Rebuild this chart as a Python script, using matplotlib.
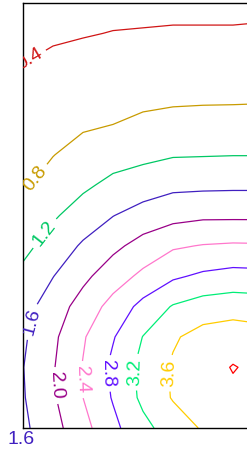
import numpy as np
import matplotlib
matplotlib.use("Agg")
import matplotlib.pyplot as plt

plt.rcParams['font.family'] = ['Liberation Sans', 'DejaVu Sans']

# grid (columns left->right, rows bottom->top)
x_vals = [0, 1, 2, 3, 4, 5, 6, 7, 8]
y_vals = [0, 1, 2, 3, 4, 5, 6, 7, 8, 9, 10, 11, 12, 13, 14]

z_rows = [
    [1.52, 1.86, 2.27, 2.70, 3.09, 3.39, 3.64, 3.85, 3.75],
    [1.57, 1.95, 2.40, 2.83, 3.29, 3.63, 3.80, 3.92, 3.85],
    [1.59, 1.97, 2.42, 2.89, 3.32, 3.65, 3.84, 4.02, 3.90],
    [1.54, 1.92, 2.36, 2.77, 3.21, 3.55, 3.75, 3.82, 3.75],
    [1.45, 1.80, 2.16, 2.54, 2.92, 3.23, 3.38, 3.43, 3.40],
    [1.30, 1.59, 1.91, 2.21, 2.49, 2.74, 2.87, 2.94, 2.92],
    [1.09, 1.37, 1.65, 1.91, 2.14, 2.35, 2.42, 2.45, 2.44],
    [0.93, 1.15, 1.38, 1.59, 1.77, 1.87, 1.93, 1.93, 1.93],
    [0.75, 0.95, 1.13, 1.30, 1.39, 1.51, 1.52, 1.53, 1.53],
    [0.68, 0.79, 0.94, 1.04, 1.11, 1.17, 1.18, 1.19, 1.19],
    [0.59, 0.69, 0.75, 0.80, 0.87, 0.91, 0.92, 0.93, 0.93],
    [0.50, 0.58, 0.63, 0.67, 0.70, 0.72, 0.73, 0.73, 0.74],
    [0.40, 0.47, 0.51, 0.54, 0.56, 0.58, 0.58, 0.58, 0.59],
    [0.31, 0.35, 0.38, 0.41, 0.42, 0.43, 0.43, 0.43, 0.44],
    [0.20, 0.24, 0.27, 0.30, 0.31, 0.32, 0.32, 0.32, 0.33],
]

levels = [0.4, 0.8, 1.2, 1.6, 2.0, 2.4, 2.8, 3.2, 3.6, 4.0]
colores = ["#d01515", "#c89b00", "#00c864", "#4020c0", "#990088",
           "#ff77cc", "#6010ff", "#00ee77", "#ffcc00", "#ff0000"]

# posiciones de las etiquetas (en unidades de datos)
label_pos = [(0.07, 12.4), (0.17, 8.4), (0.8, 6.35), (0.47, 3.45),
             (1.17, 1.4), (2.07, 1.6), (2.8, 1.8), (3.8, 1.85), (4.67, 1.8)]

Z = np.array(z_rows)

fig = plt.figure(figsize=(2.47, 4.49), dpi=100)
ax = fig.add_axes([23 / 247, 21 / 449, 240 / 247, 425 / 449])

cs = ax.contour(x_vals, y_vals, Z, levels=levels, colors=colores, linewidths=0.9)
ax.clabel(cs, levels[:-1], manual=label_pos, inline=True, fontsize=14, fmt='%.1f')
ax.text(-0.05, -0.1, "1.6", color=colores[3], fontsize=14, ha='center', va='top',
        clip_on=False)

ax.set_xlim(0, 8)
ax.set_ylim(0, 14)
ax.set_xticks([])
ax.set_yticks([])
for s in ax.spines.values():
    s.set_color("black")
    s.set_linewidth(1.0)

fig.savefig("out.png", dpi=100)
